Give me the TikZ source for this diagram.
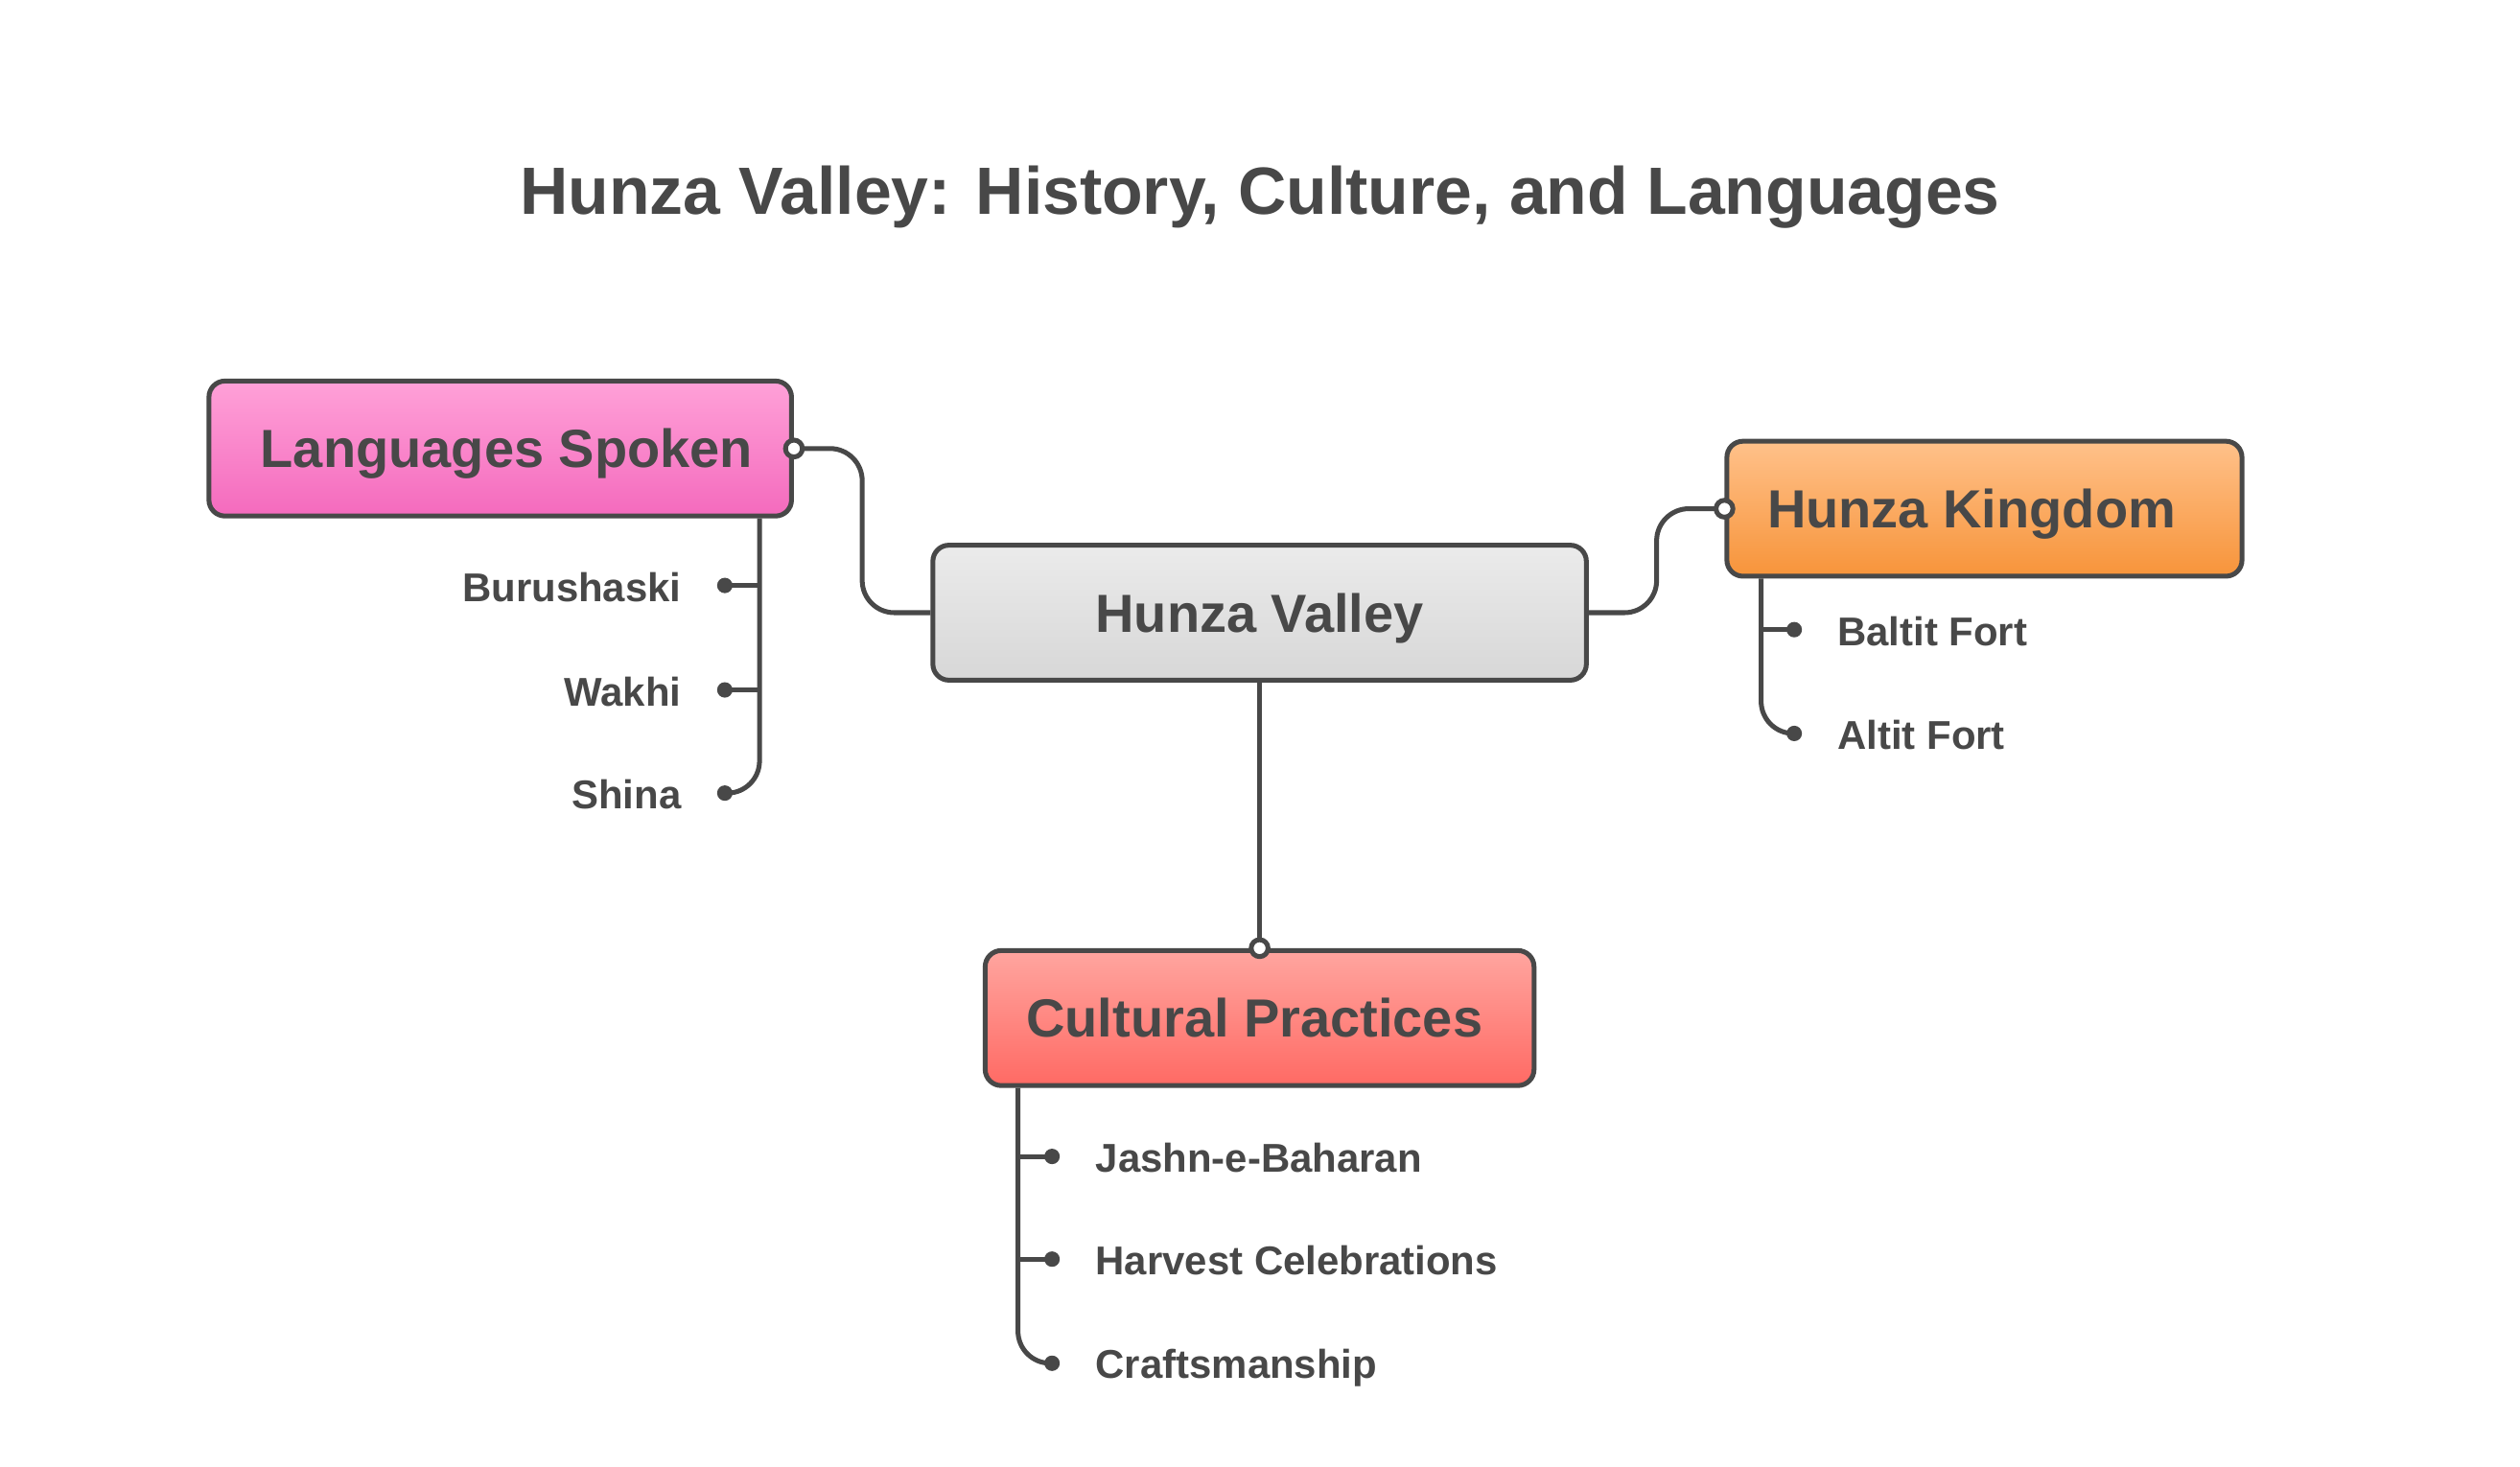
\documentclass[tikz,border=0pt]{standalone}
\usepackage{fontspec}
\setmainfont{Liberation Sans}
\usetikzlibrary{calc}
\definecolor{ink}{HTML}{484848}
\definecolor{pinkT}{HTML}{FFA1D8}
\definecolor{pinkB}{HTML}{F46ABD}
\definecolor{grayT}{HTML}{EBEBEB}
\definecolor{grayB}{HTML}{D7D7D7}
\definecolor{orgT}{HTML}{FFC18A}
\definecolor{orgB}{HTML}{F7943A}
\definecolor{redT}{HTML}{FFA59F}
\definecolor{redB}{HTML}{FF6A64}
\tikzset{
  box/.style={draw=ink, line width=1.5pt, rounded corners=5pt, minimum height=42pt,
    inner sep=0pt, text height=12pt, text depth=0pt, text=ink,
    font=\fontsize{16.7}{20}\selectfont\bfseries},
  conn/.style={draw=ink, line width=1.5pt, rounded corners=10pt},
  twig/.style={draw=ink, line width=1.5pt},
  port/.style={circle, draw=ink, fill=white, line width=1.5pt, minimum size=5.25pt, inner sep=0pt},
  dot/.style={circle, fill=ink, minimum size=4.8pt, inner sep=0pt},
  leaf/.style={text=ink, inner sep=0pt, font=\fontsize{12.5}{15}\selectfont\bfseries},
  titletext/.style={text=ink, inner sep=0pt, font=\fontsize{20.8}{25}\selectfont\bfseries}
}
\begin{document}
\begin{tikzpicture}[x=0.5pt,y=-0.5pt]
\fill[white] (0,0) rectangle (1568,912.3);
\useasboundingbox (0,0) rectangle (1568,912.3);

\node[titletext, anchor=base] (title) at (784,133.3) {Hunza Valley: History, Culture, and Languages};

% main boxes
\node[box, minimum width=181.25pt, top color=pinkT, bottom color=pinkB] (ls) at (311.25,279.1) {\hspace*{4pt}Languages Spoken};
\node[box, minimum width=203.3pt, top color=grayT, bottom color=grayB] (hv) at (783.75,381.25) {Hunza Valley};
\node[box, minimum width=160.25pt, top color=orgT, bottom color=orgB] (hk) at (1234.75,316.55) {\hspace*{-8pt}Hunza Kingdom};
\node[box, minimum width=170.75pt, top color=redT, bottom color=redB] (cp) at (783.75,633.5) {\hspace*{-3.2pt}Cultural Practices};

% connectors between main boxes
\coordinate (m1) at ($(ls.east)!0.5!(hv.west)$);
\coordinate (m2) at ($(hv.east)!0.5!(hk.west)$);
\draw[conn] (ls.east) -- (m1 |- ls.east) -- (m1 |- hv.west) -- (hv.west);
\draw[conn] (hv.east) -- (m2 |- hv.east) -- (m2 |- hk.west) -- (hk.west);
\draw[twig] (hv.south) -- (cp.north);
\node[port] (pls) at (ls.east) {};
\node[port] (phk) at (hk.west) {};
\node[port] (pcp) at (cp.north) {};

% Languages Spoken children
\coordinate (lsL) at ($(ls.south east)+(-21.4,0)$);
\node[dot] (bu) at (451,364.3) {};
\node[dot] (wa) at (451,429.3) {};
\node[dot] (sh) at (451,493.5) {};
\draw[conn] (lsL) |- (sh.center);
\draw[twig] (lsL |- bu.center) -- (bu.center);
\draw[twig] (lsL |- wa.center) -- (wa.center);
\node[leaf, anchor=base east] (tbu) at (424.3,374.3) {Burushaski};
\node[leaf, anchor=base east] (twa) at (424.3,439.3) {Wakhi};
\node[leaf, anchor=base east] (tsh) at (424.3,503.5) {Shina};

% Hunza Kingdom children
\coordinate (hkL) at ($(hk.south west)+(22.8,0)$);
\node[dot] (ba) at (1116.4,391.8) {};
\node[dot] (al) at (1116.4,456.4) {};
\draw[conn] (hkL) |- (al.center);
\draw[twig] (hkL |- ba.center) -- (ba.center);
\node[leaf, anchor=base west] (tba) at (1143,401.6) {Baltit Fort};
\node[leaf, anchor=base west] (tal) at (1143,466.2) {Altit Fort};

% Cultural Practices children
\coordinate (cpL) at ($(cp.south west)+(21.9,0)$);
\node[dot] (ja) at (654.6,719.6) {};
\node[dot] (ha) at (654.6,783.5) {};
\node[dot] (cr) at (654.6,848.3) {};
\draw[conn] (cpL) |- (cr.center);
\draw[twig] (cpL |- ja.center) -- (ja.center);
\draw[twig] (cpL |- ha.center) -- (ha.center);
\node[leaf, anchor=base west] (tja) at (681.4,729.2) {Jashn-e-Baharan};
\node[leaf, anchor=base west] (tha) at (681.4,793.1) {Harvest Celebrations};
\node[leaf, anchor=base west] (tcr) at (681.4,857.9) {Craftsmanship};
\end{tikzpicture}
\end{document}
